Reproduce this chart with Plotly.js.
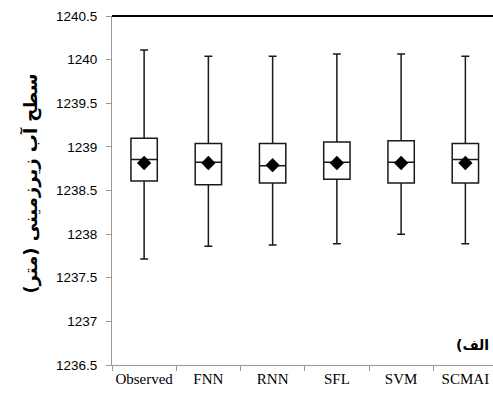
<!DOCTYPE html>
<html>
<head>
<meta charset="utf-8">
<script src="https://cdn.plot.ly/plotly-3.0.1.min.js"></script>
<style>html,body{margin:0;padding:0;background:#fff;}#chart{width:493px;height:394px;}</style>
</head>
<body>
<div id="chart"></div>
<script>
const categories = ["Observed", "FNN", "RNN", "SFL", "SVM", "SCMAI"];
const upperWhisker = [1240.11, 1240.04, 1240.04, 1240.065, 1240.065, 1240.04];
const q3Values = [1239.10, 1239.04, 1239.04, 1239.055, 1239.07, 1239.04];
const medianValues = [1238.855, 1238.825, 1238.785, 1238.825, 1238.825, 1238.855];
const q1Values = [1238.61, 1238.565, 1238.585, 1238.63, 1238.585, 1238.585];
const lowerWhisker = [1237.715, 1237.86, 1237.875, 1237.89, 1238.0, 1237.89];
const meanValues = [1238.815, 1238.815, 1238.79, 1238.815, 1238.815, 1238.815];
const yTickValues = [1236.5, 1237, 1237.5, 1238, 1238.5, 1239, 1239.5, 1240, 1240.5];
const yTickLabels = ["1236.5", "1237", "1237.5", "1238", "1238.5", "1239", "1239.5", "1240", "1240.5"];
const yTitle = "سطح آب زیرزمینی (متر)";
const panelLabel = "(الف";

const boxTrace = {
  type: "box",
  x: categories,
  q1: q1Values,
  median: medianValues,
  q3: q3Values,
  lowerfence: lowerWhisker,
  upperfence: upperWhisker,
  boxpoints: false,
  fillcolor: "rgba(255,255,255,0)",
  line: {color: "#1a1a1a", width: 1.5},
  width: 0.41,
  whiskerwidth: 0.3,
  hoverinfo: "skip",
  showlegend: false
};
const meanTrace = {
  type: "scatter",
  mode: "markers",
  x: categories,
  y: meanValues,
  marker: {symbol: "diamond", size: 11, color: "#000"},
  showlegend: false,
  hoverinfo: "skip"
};

const layout = {
  width: 493, height: 394,
  margin: {l: 112, r: 0, t: 16, b: 29},
  paper_bgcolor: "#fff", plot_bgcolor: "#fff",
  showlegend: false,
  xaxis: {
    type: "category",
    range: [-0.5, 5.43],
    tickson: "boundaries",
    tickangle: 0,
    ticks: "outside", ticklen: 5, tickcolor: "#999",
    showline: true, linecolor: "#999", linewidth: 1,
    showgrid: false, zeroline: false,
    automargin: false,
    tickfont: {family: "Liberation Serif", size: 15, color: "#000"}
  },
  yaxis: {
    range: [1236.5, 1240.5],
    tickvals: yTickValues, ticktext: yTickLabels,
    ticks: "outside", ticklen: 5, tickcolor: "#999",
    ticklabelstandoff: 6,
    showline: true, linecolor: "#999", linewidth: 1,
    showgrid: false, zeroline: false,
    automargin: false,
    tickfont: {family: "Liberation Sans", size: 13.5, color: "#000"}
  },
  shapes: [{type: "line", xref: "paper", yref: "paper", x0: 0, x1: 1, y0: 1, y1: 1,
            line: {color: "#000", width: 2}}],
  annotations: [
    {text: yTitle, xref: "paper", yref: "paper", x: -0.215, y: 0.52, textangle: -90,
     xanchor: "center", yanchor: "middle",
     showarrow: false, font: {family: "DejaVu Sans", size: 18, color: "#000", weight: "bold"}},
    {text: panelLabel, xref: "paper", yref: "paper", x: 0.995, y: 0.057, xanchor: "right", yanchor: "middle",
     showarrow: false, font: {family: "DejaVu Sans", size: 14, color: "#000", weight: "bold"}}
  ]
};
Plotly.newPlot("chart", [boxTrace, meanTrace], layout, {displayModeBar: false, staticPlot: true});
</script>
</body>
</html>
